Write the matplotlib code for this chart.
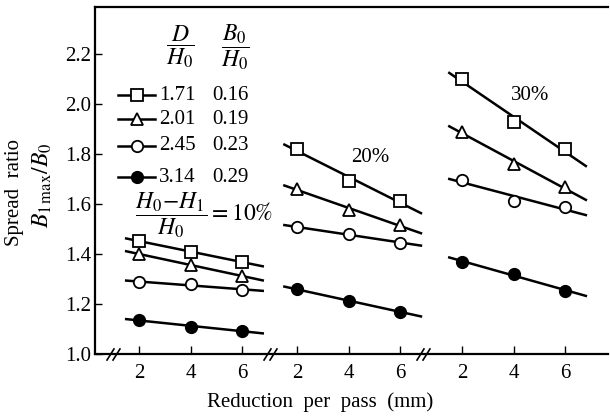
import numpy as np
import matplotlib
matplotlib.use("Agg")
import matplotlib.pyplot as plt

plt.rcParams['font.family'] = ['Liberation Serif', 'DejaVu Serif']
plt.rcParams['mathtext.fontset'] = 'stix'

# ---- data ----
reduction = [2, 4, 6]                       # mm, per group
groups = ['10%', '20%', '30%']
d_over_h = ['1.71', '2.01', '2.45', '3.14']
b_over_h = ['0.16', '0.19', '0.23', '0.29']
# spread ratio per series (rows) for each group
g10 = [[1.453, 1.407, 1.369],
       [1.400, 1.356, 1.312],
       [1.287, 1.280, 1.256],
       [1.136, 1.109, 1.093]]
g20 = [[1.820, 1.692, 1.613],
       [1.660, 1.576, 1.516],
       [1.507, 1.479, 1.445],
       [1.259, 1.212, 1.169]]
g30 = [[2.100, 1.927, 1.819],
       [1.889, 1.760, 1.667],
       [1.696, 1.613, 1.587],
       [1.369, 1.319, 1.253]]
group_data = [g10, g20, g30]

# ---- layout / style ----
offsets = [0.0, 6.14, 12.54]     # horizontal shift of each group on axis
break_x = [0.99, 7.09, 13.03]
markers = ['s', '^', 'o', 'o']
faces = ['white', 'white', 'white', 'black']
fit_span = (1.5, 6.8)

fig = plt.figure(figsize=(6.10, 4.16), dpi=100)
W, H = 610, 416
ax_l, ax_r, ax_t, ax_b = 95, 608, 7, 354
ax = fig.add_axes([ax_l / W, (H - ax_b) / H, (ax_r - ax_l) / W, (ax_b - ax_t) / H])

lw = 1.8
ms = 8.2
mew = 1.3
for gi, gdata in enumerate(group_data):
    off = offsets[gi]
    x = np.array(reduction, dtype=float)
    for si, yv in enumerate(gdata):
        p = np.polyfit(x, yv, 1)
        xl = np.array(fit_span)
        ax.plot(xl + off, np.polyval(p, xl), color='black', lw=lw, zorder=2)
        ax.plot(x + off, yv, linestyle='none', marker=markers[si], ms=ms,
                mfc=faces[si], mec='black', mew=mew, zorder=3)

ax.set_xlim(0.29, 20.2)
ax.set_ylim(1.0, 2.388)

xt = [r + o for o in offsets for r in reduction]
ax.set_xticks(xt)
ax.set_xticklabels([str(r) for o in offsets for r in reduction], fontsize=15)
ax.set_yticks([1.0, 1.2, 1.4, 1.6, 1.8, 2.0, 2.2])
ax.set_yticklabels(['1.0', '1.2', '1.4', '1.6', '1.8', '2.0', '2.2'], fontsize=15)
ax.tick_params(axis='x', direction='in', length=6, width=1, pad=7)
ax.tick_params(axis='y', direction='in', length=5, width=1, pad=3)
ax.spines['right'].set_visible(False)
for s in ['left', 'bottom', 'top']:
    ax.spines[s].set_linewidth(1.6)

# axis break marks
trans = ax.get_xaxis_transform()
for bx in break_x:
    ax.plot([bx - 0.12, bx + 0.12], [0, 0], transform=trans, linestyle='none',
            marker=[(-1, -1.6), (1, 1.6)], ms=9, mew=1.2, color='black',
            clip_on=False, zorder=5)

def axp(px, py):
    return ((px - ax_l) / (ax_r - ax_l), (ax_b - py) / (ax_b - ax_t))

# legend (manual)
rows_y = [95, 119, 146, 177]
for i in range(4):
    x0, y0 = axp(118, rows_y[i])
    x1, _ = axp(155, rows_y[i])
    xm, _ = axp(137, rows_y[i])
    ax.plot([x0, x1], [y0, y0], transform=ax.transAxes, color='black', lw=lw)
    ax.plot([xm], [y0], transform=ax.transAxes, marker=markers[i], ms=ms,
            mfc=faces[i], mec='black', mew=mew, linestyle='none')
    tx, ty = axp(159, rows_y[i])
    ax.text(tx, ty, d_over_h[i], transform=ax.transAxes, fontsize=15,
            ha='left', va='center')
    tx, ty = axp(212, rows_y[i])
    ax.text(tx, ty, b_over_h[i], transform=ax.transAxes, fontsize=15,
            ha='left', va='center')

hx, hy = axp(180, 47)
ax.text(hx, hy, r'$\dfrac{D}{H_0}$', transform=ax.transAxes, fontsize=17,
        ha='center', va='center')
hx, hy = axp(235, 47)
ax.text(hx, hy, r'$\dfrac{B_0}{H_0}$', transform=ax.transAxes, fontsize=17,
        ha='center', va='center')

hx, hy = axp(135, 215)
ax.text(hx, hy, r'$\dfrac{H_0\!-\!H_1}{H_0}=\mathrm{10\%}$', transform=ax.transAxes,
        fontsize=17, ha='left', va='center')
hx, hy = axp(370, 157)
ax.text(hx, hy, '20%', transform=ax.transAxes, fontsize=15, ha='center', va='center')
hx, hy = axp(530, 95)
ax.text(hx, hy, '30%', transform=ax.transAxes, fontsize=15, ha='center', va='center')

# axis labels
fig.text(15 / W, (H - 193) / H, 'Spread  ratio', rotation=90, fontsize=15,
         ha='center', va='center')
fig.text(42 / W, (H - 185) / H, r'$B_{1\,\mathrm{max}}/B_0$', rotation=90,
         fontsize=17, ha='center', va='center')
fig.text(320 / W, (H - 402) / H, 'Reduction  per  pass  (mm)', fontsize=15,
         ha='center', va='center')

fig.savefig('out.png', dpi=100)
